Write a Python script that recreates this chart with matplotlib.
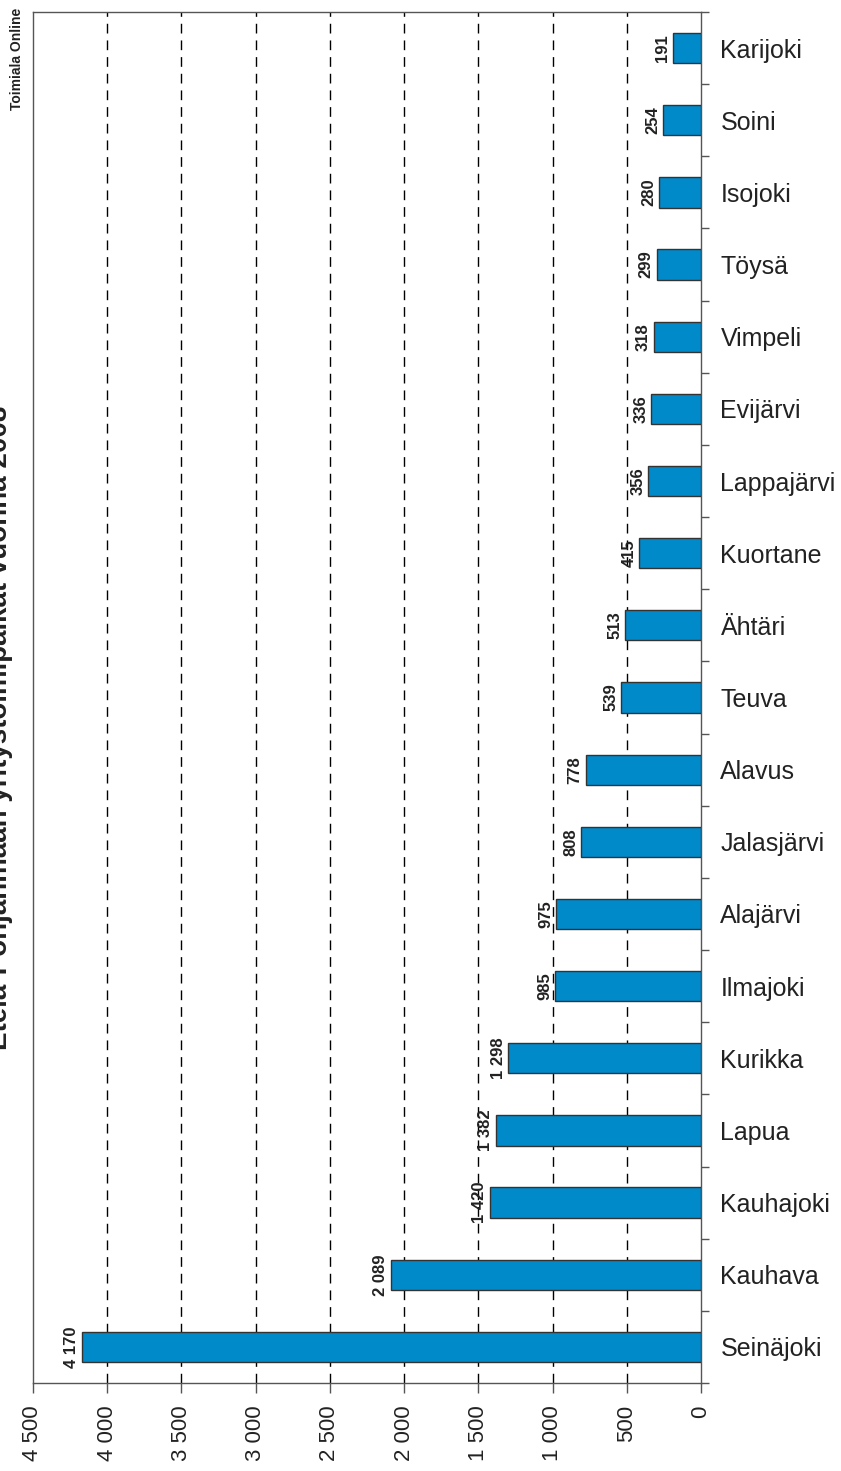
#!/usr/bin/env python3

import numpy as np
import matplotlib.pyplot as plt

plt.rcParams["font.family"] = ["Liberation Sans", "DejaVu Sans"]

# municipalities, top to bottom
municipalities = [
    "Karijoki", "Soini", "Isojoki", "Töysä", "Vimpeli", "Evijärvi",
    "Lappajärvi", "Kuortane", "Ähtäri", "Teuva", "Alavus", "Jalasjärvi",
    "Alajärvi", "Ilmajoki", "Kurikka", "Lapua", "Kauhajoki", "Kauhava",
    "Seinäjoki",
]
establishments = [
    191, 254, 280, 299, 318, 336, 356, 415, 513, 539, 778, 808,
    975, 985, 1298, 1382, 1420, 2089, 4170,
]
x_ticks = [0, 500, 1000, 1500, 2000, 2500, 3000, 3500, 4000, 4500]

title = "Etelä-Pohjanmaan yritystoimipaikat vuonna 2008"
source = "Toimiala Online"


def fmt(v):
    # thousands separated with a space
    return f"{v:,}".replace(",", " ")


bar_color = "#008ACA"
spine_color = "#555555"
text_color = "#222222"

fig = plt.figure(figsize=(8.41, 14.71), dpi=100)
ax = fig.add_axes([33 / 841, 1 - 1383 / 1471, (701 - 33) / 841, (1383 - 12) / 1471])

pos = np.arange(len(municipalities))
ax.barh(pos, establishments, height=0.42, color=bar_color,
        edgecolor="#333333", linewidth=1, zorder=3)

# vertical dashed grid
for t in x_ticks[1:-1]:
    ax.axvline(t, color="black", linewidth=1, dashes=(7, 5), zorder=1)

ax.set_xlim(4500, 0)
ax.set_ylim(len(municipalities) - 0.5, -0.5)

# value labels at bar ends
for i, v in enumerate(establishments):
    ax.annotate(fmt(v), (v, i), xytext=(-2, 0), textcoords="offset points",
                rotation=90, ha="right", va="center", fontsize=12,
                fontweight="bold", color=text_color, zorder=4)

# x axis
ax.set_xticks(x_ticks)
ax.set_xticklabels([fmt(t) for t in x_ticks], rotation=90, fontsize=16,
                   color=text_color)
ax.tick_params(axis="x", direction="out", length=7, width=1,
               color=spine_color, pad=9)

# y axis on the right
ax.yaxis.tick_right()
ax.set_yticks(pos)
ax.set_yticklabels(municipalities, fontsize=18, color=text_color)
ax.set_yticks(np.arange(len(municipalities) + 1) - 0.5, minor=True)
ax.tick_params(axis="y", which="major", length=0, pad=14)
ax.tick_params(axis="y", which="minor", direction="out", length=6,
               width=1, color=spine_color)

for s in ax.spines.values():
    s.set_color(spine_color)
    s.set_linewidth(1)

fig.text(0.0, 1 - 728 / 1471, title, rotation=90, ha="center", va="center",
         fontsize=20, fontweight="bold", color=text_color)
fig.text(17 / 841, 1 - 8 / 1471, source, rotation=90, ha="center", va="top",
         fontsize=10, fontweight="bold", color=text_color)

fig.savefig("out.png", dpi=100)
